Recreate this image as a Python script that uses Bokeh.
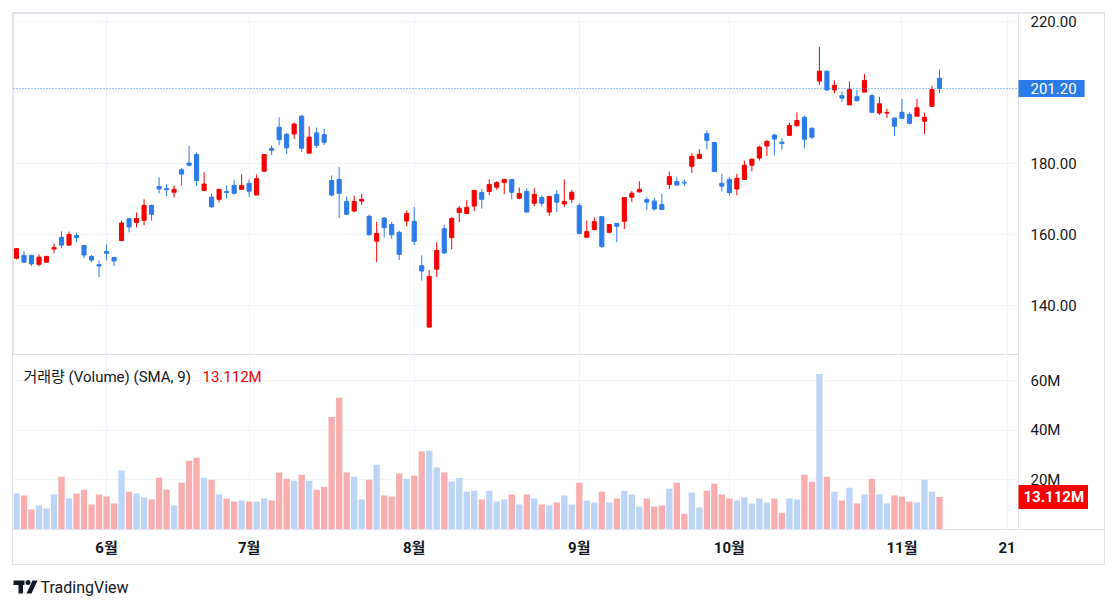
from bokeh.plotting import figure
from bokeh.models import Range1d, FixedTicker, Label, ColumnDataSource, NumeralTickFormatter
from bokeh.layouts import column
from bokeh.embed import file_html
from bokeh.resources import INLINE
from bokeh.core.properties import value

# ---------------- data (daily candles, mid-May .. early Nov) ----------------
opens = [153.4, 154.2, 154.2, 151.7, 152.3, 156.0, 159.3, 157.1, 159.8, 157.0,
         153.9, 151.6, 155.3, 153.6, 158.4, 164.5, 163.5, 164.1, 168.3, 173.6,
         173.0, 172.0, 178.3, 180.2, 182.6, 172.5, 170.6, 170.0, 172.2, 173.9,
         172.8, 174.5, 171.2, 177.9, 184.3, 190.3, 188.3, 188.4, 193.4, 183.0,
         188.7, 188.2, 175.3, 175.6, 169.4, 166.7, 169.5, 165.2, 158.2, 164.7,
         162.9, 160.7, 163.9, 163.8, 151.3, 134.0, 150.3, 161.7, 159.2, 166.3,
         166.0, 168.1, 171.9, 172.2, 173.4, 174.7, 175.6, 170.3, 172.2, 168.9,
         170.5, 166.4, 171.4, 168.7, 170.0, 168.2, 159.3, 161.5, 165.1, 160.7,
         163.2, 163.8, 170.6, 172.1, 169.9, 169.5, 168.5, 174.2, 175.0, 174.8,
         179.3, 181.5, 188.5, 186.0, 174.5, 175.6, 172.9, 175.6, 179.6, 181.6,
         185.0, 188.1, 186.1, 188.0, 190.7, 193.1, 190.0, 203.3, 206.1, 200.8,
         199.2, 196.6, 198.9, 200.2, 199.2, 194.3, 194.3, 192.9, 194.5, 193.9,
         193.4, 192.0, 196.2, 204.1]
highs = [156.3, 155.4, 154.4, 154.5, 154.1, 157.6, 161.0, 160.9, 160.6, 157.0,
         154.3, 152.8, 157.3, 153.8, 164.0, 164.8, 166.3, 170.0, 168.5, 176.2,
         174.3, 173.9, 178.8, 185.0, 183.2, 177.6, 171.6, 172.8, 173.9, 175.5,
         177.1, 175.6, 177.0, 182.6, 185.1, 193.1, 188.7, 191.6, 193.8, 190.5,
         190.2, 189.8, 176.7, 179.1, 170.8, 171.1, 171.6, 165.7, 163.6, 165.0,
         163.6, 161.2, 166.9, 167.8, 154.2, 150.1, 157.9, 162.9, 165.0, 168.1,
         169.7, 172.5, 172.9, 175.6, 175.1, 175.6, 175.6, 173.3, 173.1, 173.1,
         171.1, 170.8, 172.6, 175.6, 172.6, 168.9, 164.0, 164.9, 165.3, 162.9,
         163.2, 170.5, 172.3, 175.1, 170.6, 170.4, 171.5, 177.8, 176.2, 175.6,
         183.0, 184.1, 189.4, 186.0, 177.1, 176.2, 177.2, 180.9, 181.5, 185.1,
         186.7, 188.5, 187.2, 191.6, 194.5, 193.6, 190.3, 212.9, 206.1, 203.5,
         200.4, 203.2, 200.8, 205.3, 199.7, 198.9, 195.5, 192.9, 198.3, 194.5,
         198.3, 194.4, 202.0, 206.6]
lows = [153.1, 152.1, 151.2, 151.1, 152.2, 154.8, 156.2, 156.9, 157.9, 153.4,
        152.3, 148.1, 152.8, 151.2, 158.2, 160.7, 162.1, 162.7, 164.0, 171.7,
        170.9, 170.6, 173.7, 179.3, 173.8, 172.5, 167.6, 169.1, 170.3, 171.3,
        172.8, 170.6, 171.2, 177.9, 182.4, 185.2, 182.8, 187.0, 183.3, 183.0,
        184.4, 185.3, 170.8, 164.7, 165.6, 166.3, 168.4, 159.8, 152.3, 159.3,
        158.9, 152.9, 162.4, 157.1, 147.1, 134.0, 148.1, 154.6, 155.9, 163.6,
        165.8, 166.7, 167.4, 171.2, 172.7, 171.5, 170.0, 170.0, 166.4, 168.1,
        168.0, 165.3, 166.4, 167.8, 168.9, 160.1, 159.3, 161.2, 156.3, 160.4,
        157.9, 161.6, 169.2, 171.9, 167.0, 166.8, 167.1, 172.9, 174.0, 173.7,
        177.4, 181.3, 184.1, 177.7, 172.2, 171.0, 171.1, 175.6, 177.9, 180.9,
        182.2, 182.3, 184.0, 188.0, 190.7, 184.4, 186.9, 202.2, 200.6, 199.9,
        197.4, 196.6, 197.5, 200.2, 194.5, 193.8, 192.9, 187.8, 192.8, 191.1,
        193.4, 188.4, 196.2, 199.9]
closes = [156.1, 152.3, 151.8, 153.7, 153.9, 156.4, 157.1, 160.1, 159.2, 154.3,
          152.9, 151.2, 154.8, 152.6, 163.3, 162.2, 164.6, 168.3, 165.8, 172.9,
          172.7, 172.8, 177.1, 179.6, 175.3, 174.3, 167.9, 172.8, 171.9, 171.7,
          173.9, 172.3, 175.8, 182.6, 183.8, 186.8, 184.5, 191.2, 184.4, 187.5,
          185.2, 186.1, 171.2, 171.7, 165.8, 169.4, 170.0, 160.0, 160.4, 162.0,
          160.0, 154.5, 166.0, 158.2, 149.8, 148.3, 155.6, 154.9, 164.6, 167.5,
          167.7, 172.5, 170.0, 174.2, 174.7, 175.6, 172.0, 171.6, 166.4, 171.4,
          168.9, 170.8, 169.2, 169.4, 172.0, 160.4, 160.9, 163.7, 156.7, 162.9,
          162.4, 170.5, 171.7, 172.8, 169.2, 167.3, 167.1, 176.4, 174.0, 174.6,
          182.1, 182.7, 186.6, 177.8, 173.7, 171.9, 175.9, 179.6, 181.3, 184.7,
          186.3, 187.0, 185.7, 190.8, 192.2, 186.9, 187.5, 206.1, 200.8, 202.1,
          198.5, 200.9, 197.8, 203.5, 194.5, 196.9, 194.5, 190.6, 192.8, 191.4,
          195.8, 193.1, 200.9, 201.2]
volumes_m = [14.5, 13.7, 8.1, 9.7, 8.5, 14.1, 21.3, 12.5, 14.5, 16.1,
             10.1, 14.1, 13.3, 10.5, 23.8, 15.3, 14.5, 12.9, 12.1, 20.9,
             16.1, 9.7, 18.9, 27.8, 29.0, 20.9, 20.1, 14.1, 12.5, 11.3,
             11.7, 11.3, 11.3, 12.5, 11.7, 23.0, 20.5, 19.7, 22.1, 19.7,
             16.1, 17.3, 45.5, 53.2, 23.0, 21.3, 12.1, 20.1, 26.2, 13.7,
             13.3, 22.6, 20.5, 21.7, 31.5, 31.8, 25.0, 23.0, 19.3, 20.8,
             15.3, 15.7, 12.1, 15.7, 11.3, 12.1, 14.1, 10.1, 14.1, 12.5,
             10.1, 9.7, 10.9, 13.7, 10.1, 18.9, 11.7, 10.9, 15.3, 10.9,
             12.5, 15.7, 14.1, 9.3, 12.5, 9.3, 9.7, 16.5, 18.9, 6.4,
             14.9, 8.9, 15.7, 18.5, 14.1, 12.5, 11.7, 12.9, 10.5, 12.5,
             10.9, 12.5, 6.8, 12.5, 12.1, 22.1, 19.3, 62.8, 21.3, 15.3,
             11.7, 16.9, 10.5, 14.1, 20.5, 14.1, 10.5, 13.7, 13.3, 11.3,
             10.9, 20.1, 15.3, 13.112]
month_tick_idx = [12, 31, 53, 75, 95, 118, 132]
month_tick_labels = ["6월", "7월", "8월", "9월", "10월", "11월", "21"]
price_ticks = [140, 160, 180, 200, 220]
volume_ticks = [20, 40, 60]
volume_title = "거래량 (Volume) (SMA, 9)"

# ---------------- style ----------------
UP = "#f70000"
DOWN = "#2b7be8"
VOL_UP = "#bcd4f6"      # volume bar of a rising candle
VOL_DOWN = "#f8aeae"    # volume bar of a falling candle
TEXT = "#131722"
GRID = "#f0f3fa"
SEP = "#e0e3eb"
FONT = "Roboto, 'Noto Sans CJK KR', sans-serif"

PLOT_W = 1005          # candle area width (px)
FULL_W = 1091          # candle area + price scale column
PRICE_H = 342
VOL_H = 174
TIME_H = 35
X0, X1 = -0.40, 133.53                      # visible bar range of the candle area
XE = X0 + FULL_W / PLOT_W * (X1 - X0)       # range end incl. price-scale column
P0, P1 = 126.0, 222.34
V0, V1 = 0.0, 70.3

n = len(closes)
idx = list(range(n))
up = [c >= o for o, c in zip(opens, closes)]
src = ColumnDataSource(dict(
    x=idx, o=opens, h=highs, l=lows, c=closes,
    top=[max(o, c) for o, c in zip(opens, closes)],
    bottom=[min(o, c) for o, c in zip(opens, closes)],
    color=[UP if u else DOWN for u in up],
    vcolor=[VOL_UP if u else VOL_DOWN for u in up],
    vol=volumes_m,
))


def px_to_x(px):
    return X0 + (px - 13) / PLOT_W * (X1 - X0)


def py_to_vol(py):
    return V0 + (356 + VOL_H - py) / VOL_H * (V1 - V0)


def base_style(p):
    p.toolbar_location = None
    p.background_fill_color = "white"
    p.border_fill_color = "white"
    p.min_border_left = 0
    p.min_border_top = 0
    p.min_border_right = 0
    for g in (p.xgrid, p.ygrid):
        g.grid_line_color = GRID
        g.grid_line_width = 1


def style_axis(ax):
    ax.major_tick_line_color = None
    ax.minor_tick_line_color = None
    ax.major_tick_out = 0
    ax.major_tick_in = 0
    ax.major_label_text_font = FONT
    ax.major_label_text_font_size = "15px"
    ax.major_label_text_color = TEXT


def price_column(p, y0, y1):
    # white price-scale column to the right of the candle area
    p.quad(left=[X1], right=[XE], bottom=[y0], top=[y1],
           fill_color="white", line_color=None)


# ---------------- price pane ----------------
p1 = figure(frame_width=FULL_W, frame_height=PRICE_H,
            x_range=Range1d(X0, XE), y_range=Range1d(P0, P1),
            x_axis_location=None, y_axis_location="right",
            toolbar_location=None, output_backend="svg")
base_style(p1)
p1.outline_line_color = SEP
p1.min_border_bottom = 0
p1.xgrid.ticker = FixedTicker(ticks=month_tick_idx)
ya = p1.yaxis[0]
style_axis(ya)
ya.fixed_location = X1
ya.axis_line_color = SEP
ya.ticker = FixedTicker(ticks=price_ticks)
ya.formatter = NumeralTickFormatter(format="0.00")
ya.major_label_overrides = {200: ""}
ya.major_label_standoff = 12

p1.segment(x0="x", y0="l", x1="x", y1="h", line_color="color", line_width=1, source=src)
p1.vbar(x="x", width=0.55, top="top", bottom="bottom",
        fill_color="color", line_color="color", line_width=1, source=src)
price_column(p1, P0, P1)

last_col = UP if up[-1] else DOWN
p1.segment(x0=[X0], y0=[closes[-1]], x1=[X1], y1=[closes[-1]],
           line_color=last_col, line_width=1, line_dash="1 2")
p1.add_layout(Label(x=X1, y=closes[-1], text=f"{closes[-1]:.2f}",
                    text_align="left", text_baseline="middle",
                    text_color="white", text_font=FONT, text_font_size="15px",
                    background_fill_color=last_col,
                    padding=dict(left=12, right=8, top=3, bottom=3)))

# ---------------- volume pane ----------------
p2 = figure(frame_width=FULL_W, frame_height=VOL_H,
            x_range=p1.x_range, y_range=Range1d(V0, V1),
            x_axis_location="below", y_axis_location="right",
            toolbar_location=None, output_backend="svg")
base_style(p2)
p2.outline_line_color = None
p2.min_border_bottom = TIME_H
vya = p2.yaxis[0]
style_axis(vya)
vya.fixed_location = X1
vya.axis_line_color = SEP
vya.ticker = FixedTicker(ticks=volume_ticks)
vya.major_label_overrides = {v: f"{v}M" for v in volume_ticks}
vya.major_label_standoff = 12
xa = p2.xaxis[0]
style_axis(xa)
xa.axis_line_color = SEP
xa.ticker = FixedTicker(ticks=month_tick_idx)
xa.major_label_overrides = dict(zip(month_tick_idx, month_tick_labels))
xa.major_label_text_font_style = "bold"
xa.major_label_standoff = 9

p2.vbar(x="x", width=0.84, top="vol", bottom=0, fill_color="vcolor",
        line_color=None, source=src)
price_column(p2, V0, V1)

val_col = DOWN if up[-1] else UP
p2.add_layout(Label(x=px_to_x(23), y=py_to_vol(377), text=volume_title,
                    text_align="left", text_baseline="middle",
                    text_color=TEXT, text_font=FONT, text_font_size="15px"))
p2.add_layout(Label(x=px_to_x(202), y=py_to_vol(377), text=f"{volumes_m[-1]:.3f}M",
                    text_align="left", text_baseline="middle",
                    text_color=val_col, text_font=FONT, text_font_size="15px"))
p2.add_layout(Label(x=X1, y=volumes_m[-1], text=f"{volumes_m[-1]:.3f}M",
                    text_align="left", text_baseline="middle",
                    text_color="white", text_font=FONT, text_font_size="15px",
                    text_font_style="bold",
                    background_fill_color=val_col,
                    padding=dict(left=5, right=4, top=3, bottom=3)))

# ---------------- footer (logo) ----------------
p3 = figure(width=1118, height=44, x_range=Range1d(0, 1118), y_range=Range1d(44, 0),
            x_axis_location=None, y_axis_location=None,
            toolbar_location=None, output_backend="svg")
p3.min_border = 0
p3.outline_line_color = None
p3.xgrid.visible = False
p3.ygrid.visible = False
p3.patches(xs=[[13, 24, 24, 22.5, 22.5, 18, 18, 13], [26, 31, 37, 32]],
           ys=[[15, 15, 19.5, 19.5, 28, 28, 19.5, 19.5], [28, 28, 15, 15]],
           fill_color="#131722", line_color=None)
p3.scatter(x=[27.5], y=[17], size=5, marker="circle", fill_color="#131722", line_color=None)
p3.text(x=[40], y=[22], text=["TradingView"], text_font=value("Roboto"),
        text_font_size="16px", text_color="#131722", text_baseline="middle")

chart = column(p1, p2, styles={"border": f"1px solid {SEP}", "margin-left": "12px",
                               "margin-top": "12px"})
root = column(chart, p3)

open("out.html", "w").write(file_html(root, INLINE))
